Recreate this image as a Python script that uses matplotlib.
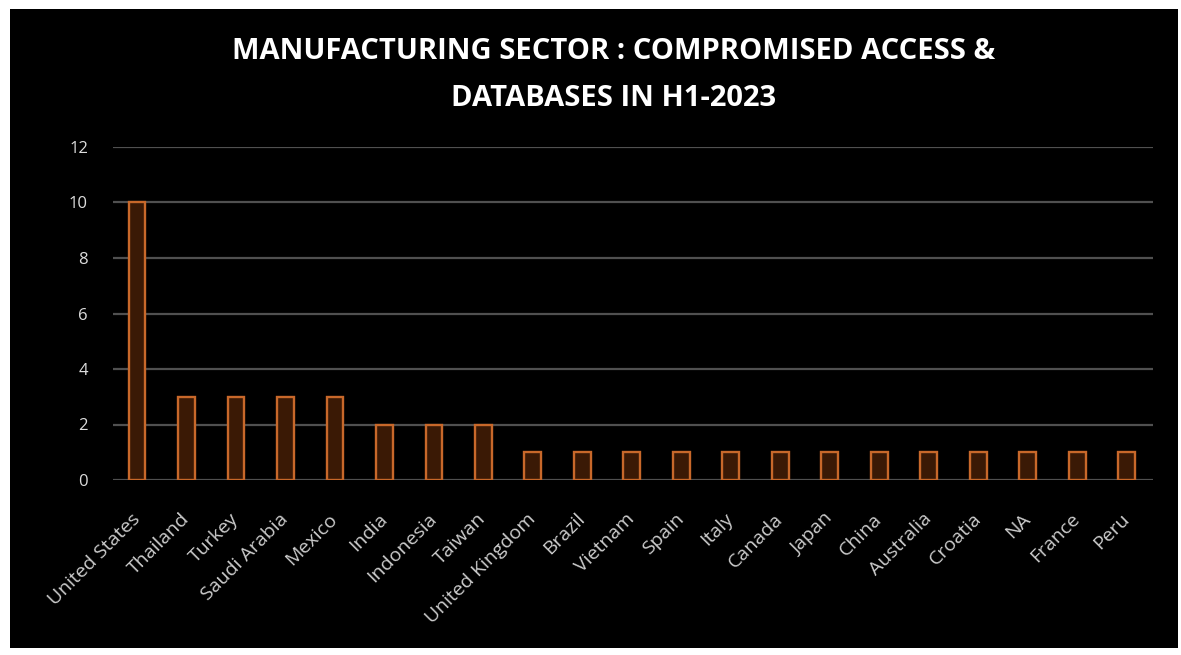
import matplotlib
matplotlib.use("Agg")
import matplotlib.pyplot as plt
from matplotlib.patches import Rectangle

countries = ["United States", "Thailand", "Turkey", "Saudi Arabia", "Mexico", "India",
             "Indonesia", "Taiwan", "United Kingdom", "Brazil", "Vietnam", "Spain", "Italy",
             "Canada", "Japan", "China", "Australia", "Croatia", "NA", "France", "Peru"]
counts = [10, 3, 3, 3, 3, 2, 2, 2, 1, 1, 1, 1, 1, 1, 1, 1, 1, 1, 1, 1, 1]
yticks = [0, 2, 4, 6, 8, 10, 12]

W, H = 1181, 655
fig = plt.figure(figsize=(W / 100, H / 100), dpi=100, facecolor="white")
fig.patches.append(Rectangle((10 / W, 1 - 648 / H), (1178 - 10) / W, (648 - 9) / H,
                             transform=fig.transFigure, facecolor="black", edgecolor="none", zorder=-5))

ax = fig.add_axes([113 / W, 1 - 480 / H, (1153 - 113) / W, (480 - 147) / H])
ax.set_zorder(2)
ax.set_facecolor("none")
x = list(range(len(countries)))
ax.bar(x, counts, width=0.34, color="#3a1905", edgecolor="#c8682a", linewidth=1.7, zorder=3)
ax.set_xlim(-0.485, 20.53)
ax.set_ylim(0, 12)
ax.set_yticks(yticks)
ax.set_yticklabels([str(v) for v in yticks], color="#dddddd", fontsize=12, fontfamily="Open Sans")
ax.grid(axis="y", color="#505050", linewidth=1.6, zorder=0)
ax.tick_params(axis="y", length=0, pad=18)
ax.set_xticks(x)
ax.set_xticklabels(countries, rotation=45, ha="right", va="center", rotation_mode="anchor",
                   color="#cccccc", fontsize=14, fontfamily="Open Sans")
ax.tick_params(axis="x", length=0, pad=26)
for s in ax.spines.values():
    s.set_visible(False)

fig.text(614 / W, 1 - 75 / H, "MANUFACTURING SECTOR : COMPROMISED ACCESS &\nDATABASES IN H1-2023",
         ha="center", va="center", color="white", fontsize=21, fontweight="bold",
         fontfamily="Open Sans", linespacing=1.8, zorder=5)

fig.savefig("out.png", dpi=100, facecolor="white")
